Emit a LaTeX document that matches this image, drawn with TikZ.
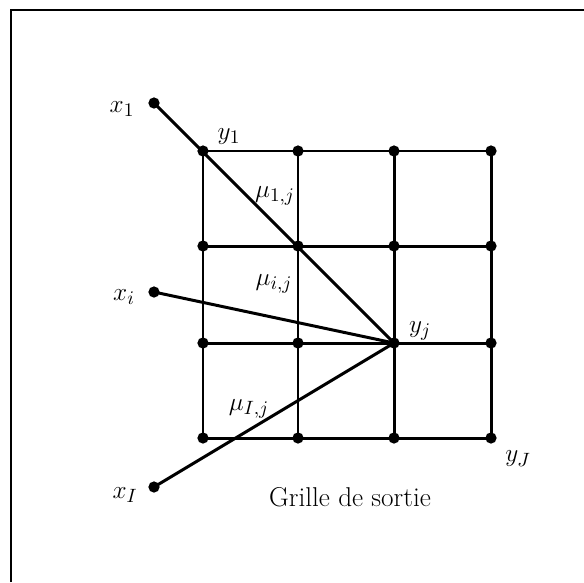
\documentclass[tikz,border=0pt]{standalone}
\usepackage{amsmath,amssymb}
\usepackage{tikz}

\begin{document}
\begin{tikzpicture}[x=0.02cm,y=-0.02cm,font=\fontsize{15.5}{18}\selectfont,line width=1.7pt]
\tikzset{gdot/.style={circle,fill,inner sep=0pt,minimum size=6.4pt}}
\useasboundingbox (0,0) rectangle (584,582);
% cadre (coupe a droite et en bas)
\draw (11,582) -- (11,10) -- (584,10);
% grille de sortie
\foreach \c/\x in {1/203,2/298,3/394,4/491}
  \foreach \r/\y in {1/151,2/246,3/343,4/438}
    \node[gdot] (g\r\c) at (\x,\y) {};
\foreach \r in {1,...,4} \draw (g\r1.center) -- (g\r4.center);
\foreach \c in {1,...,4} \draw (g1\c.center) -- (g4\c.center);
% entrees
\node[gdot] (x1) at (154,103) {};
\node[gdot] (xi) at (154,292) {};
\node[gdot] (xI) at (154,487) {};
\draw (x1.center) -- (g33.center);
\draw (xi.center) -- (g33.center);
\draw (xI.center) -- (g33.center);
% etiquettes
\node at (122,109) {$x_1$};
\node at (124,297) {$x_i$};
\node at (125,495) {$x_I$};
\node at (229,137) {$y_1$};
\node at (420,331) {$y_j$};
\node at (518,459) {$y_J$};
\node at (275,196) {$\mu_{1,j}$};
\node at (274,284) {$\mu_{i,j}$};
\node at (249,409) {$\mu_{I,j}$};
\node at (350,497) {Grille de sortie};
\end{tikzpicture}
\end{document}
